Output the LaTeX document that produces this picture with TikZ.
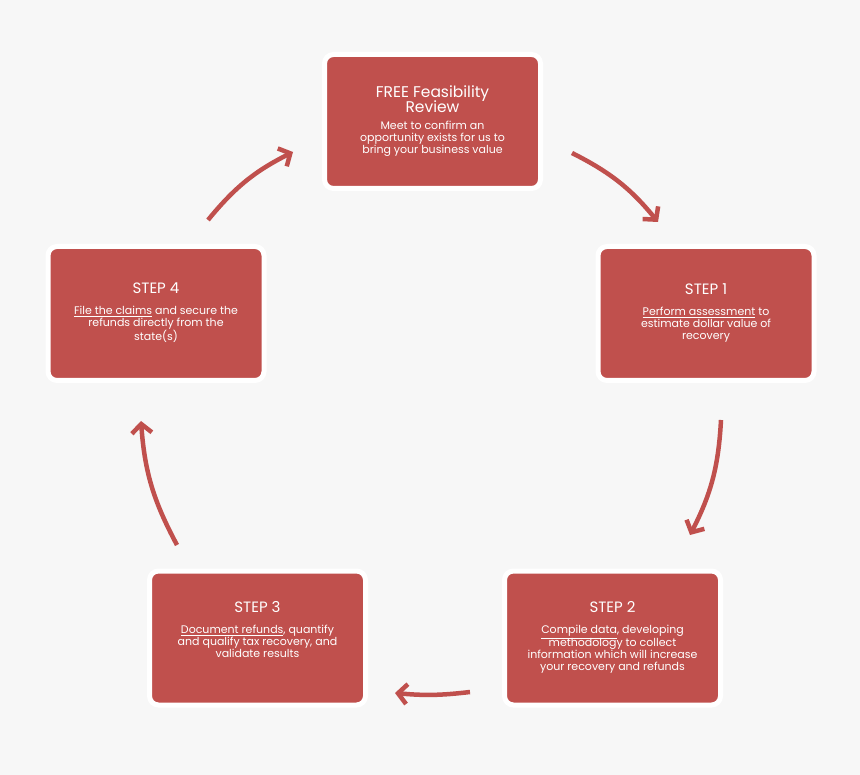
\documentclass[tikz,border=0pt]{standalone}
\usepackage{fontspec}
\setmainfont{Poppins}
\usetikzlibrary{arrows.meta,shadows}
\definecolor{bg}{HTML}{F7F7F7}
\definecolor{boxred}{HTML}{C0504D}
\tikzset{
 card/.style={draw=white,line width=5pt,fill=boxred,rounded corners=9pt,minimum width=216pt,minimum height=134pt,
   drop shadow={shadow xshift=0pt,shadow yshift=0pt,opacity=0.25,fill=gray},text=white,align=center,inner sep=0pt},
 flow/.style={draw=boxred,line width=4.5pt,-{Straight Barb[length=9pt,width=20pt,line width=4.5pt]}},
 ttl/.style={font=\fontsize{15}{20}\selectfont},
 bdy/.style={font=\fontsize{11}{14}\selectfont}
}
\begin{document}
\begin{tikzpicture}[x=1pt,y=-1pt]
\fill[bg] (0,0) rectangle (860,775);
\node[card] (r) at (432.5,121.5) {\begin{tabular}{c}\fontsize{15.5}{22}\selectfont FREE Feasibility\\\fontsize{15.5}{22}\selectfont Review\end{tabular}\\[4pt]\begin{tabular}{c}\fontsize{11}{14}\selectfont Meet to confirm an\\\fontsize{11}{14}\selectfont opportunity exists for us to\\\fontsize{11}{14}\selectfont bring your business value\end{tabular}};
\node[card] (s1) at (706,313.5) {\begin{tabular}{c}\fontsize{15}{20}\selectfont STEP 1\end{tabular}\\[8pt]\begin{tabular}{c}\fontsize{11}{14}\selectfont \underline{Perform assessment} to\\\fontsize{11}{14}\selectfont estimate dollar value of\\\fontsize{11}{14}\selectfont recovery\end{tabular}};
\node[card] (s2) at (612.5,638) {\begin{tabular}{c}\fontsize{15}{20}\selectfont STEP 2\end{tabular}\\[8pt]\begin{tabular}{c}\fontsize{11}{14}\selectfont \underline{Compile data}, developing\\\fontsize{11}{14}\selectfont methodology to collect\\\fontsize{11}{14}\selectfont information which will increase\\\fontsize{11}{14}\selectfont your recovery and refunds\end{tabular}};
\node[card] (s3) at (257.5,638) {\begin{tabular}{c}\fontsize{15}{20}\selectfont STEP 3\end{tabular}\\[8pt]\begin{tabular}{c}\fontsize{11}{14}\selectfont \underline{Document refunds}, quantify\\\fontsize{11}{14}\selectfont and qualify tax recovery, and\\\fontsize{11}{14}\selectfont validate results\\[14pt]\end{tabular}};
\node[card] (s4) at (156,313.5) {\begin{tabular}{c}\fontsize{15}{20}\selectfont STEP 4\end{tabular}\\[8pt]\begin{tabular}{c}\fontsize{11}{14}\selectfont \underline{File the claims} and secure the\\\fontsize{11}{14}\selectfont refunds directly from the\\\fontsize{11}{14}\selectfont state(s)\end{tabular}};
\coordinate (a1s) at (572,153); \coordinate (a1e) at (658,222);
\coordinate (a2s) at (721,420); \coordinate (a2e) at (690,535);
\coordinate (a3s) at (470,692); \coordinate (a3e) at (395,693);
\coordinate (a4s) at (177,545); \coordinate (a4e) at (141,421);
\coordinate (a5s) at (208,220); \coordinate (a5e) at (293,152);
\draw[flow] (a1s) to[bend left=12] (a1e);
\draw[flow] (a2s) to[bend left=12] (a2e);
\draw[flow] (a3s) to[bend left=6] (a3e);
\draw[flow] (a4s) to[bend left=12] (a4e);
\draw[flow] (a5s) to[bend left=12] (a5e);
\end{tikzpicture}
\end{document}
